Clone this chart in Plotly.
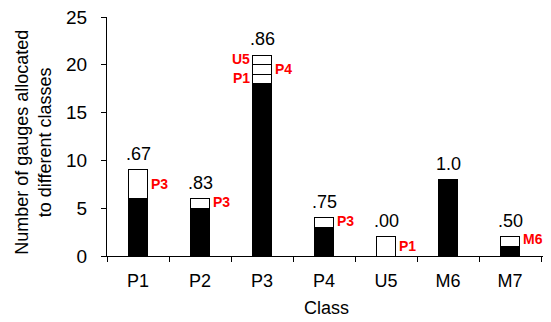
import plotly.graph_objects as go

categories = ["P1", "P2", "P3", "P4", "U5", "M6", "M7"]
correct = [6, 5, 18, 3, 0, 8, 1]
misclass_1 = [3, 1, 1, 1, 2, 0, 1]
misclass_2 = [0, 0, 1, 0, 0, 0, 0]
misclass_3 = [0, 0, 1, 0, 0, 0, 0]
ratio_labels = [".67", ".83", ".86", ".75", ".00", "1.0", ".50"]
# (category, value, label, side)
red_labels = [
    ("P1", 7.5, "P3", "right"),
    ("P2", 5.7, "P3", "right"),
    ("P3", 18.6, "P1", "left"),
    ("P3", 19.6, "P4", "right"),
    ("P3", 20.6, "U5", "left"),
    ("P4", 3.7, "P3", "right"),
    ("U5", 1.0, "P1", "right"),
    ("M7", 1.8, "M6", "right"),
]
x_title = "Class"
y_title = "Number of gauges allocated<br>to different classes"

def nz(v):
    return [x if x else None for x in v]

FONT = "Arial"

fig = go.Figure()
fig.add_bar(x=categories, y=nz(correct), marker=dict(color="black", line=dict(color="black", width=1)))
for seg in (misclass_1, misclass_2, misclass_3):
    fig.add_bar(x=categories, y=nz(seg), marker=dict(color="white", line=dict(color="black", width=1)))

totals = [a + b + c + d for a, b, c, d in zip(correct, misclass_1, misclass_2, misclass_3)]
for cat, tot, lab in zip(categories, totals, ratio_labels):
    fig.add_annotation(x=cat, y=tot, text=lab, showarrow=False, yanchor="bottom", yshift=4,
                       font=dict(size=18, color="black", family=FONT))
for cat, val, lab, side in red_labels:
    fig.add_annotation(x=cat, y=val, text="<b>" + lab + "</b>", showarrow=False,
                       xanchor="left" if side == "right" else "right",
                       xshift=11 if side == "right" else -10, yanchor="middle",
                       font=dict(size=14, color="red", family=FONT))

# axis titles as annotations for exact placement
fig.add_annotation(xref="paper", yref="paper", x=0.5, y=-0.218, text=x_title, showarrow=False,
                   yanchor="middle", font=dict(size=18, family=FONT, color="black"))
fig.add_annotation(xref="paper", yref="paper", x=-0.167, y=0.477, text=y_title, showarrow=False,
                   textangle=-90, xanchor="center", yanchor="middle",
                   font=dict(size=18, family=FONT, color="black"))

# page body has an 8px margin, so the figure is sized/offset to compensate
fig.update_layout(
    width=543, height=314, barmode="stack", bargap=0.68, showlegend=False,
    plot_bgcolor="white", paper_bgcolor="white",
    margin=dict(l=99, r=6, t=9, b=66, autoexpand=False),
    font=dict(family=FONT, color="black"),
)
fig.update_xaxes(showline=True, linecolor="black", linewidth=1, ticks="outside", tickson="boundaries",
                 ticklen=5, tickcolor="black", tickfont=dict(size=18), automargin=False,
                 ticklabelstandoff=8)
fig.update_yaxes(range=[0, 25], dtick=5, showline=True, linecolor="black", linewidth=1, ticks="outside",
                 ticklen=5, tickcolor="black", showgrid=False, zeroline=False, tickfont=dict(size=19),
                 ticklabelstandoff=10, ticklabeloverflow="allow", automargin=False)
fig.write_html("out.html")
